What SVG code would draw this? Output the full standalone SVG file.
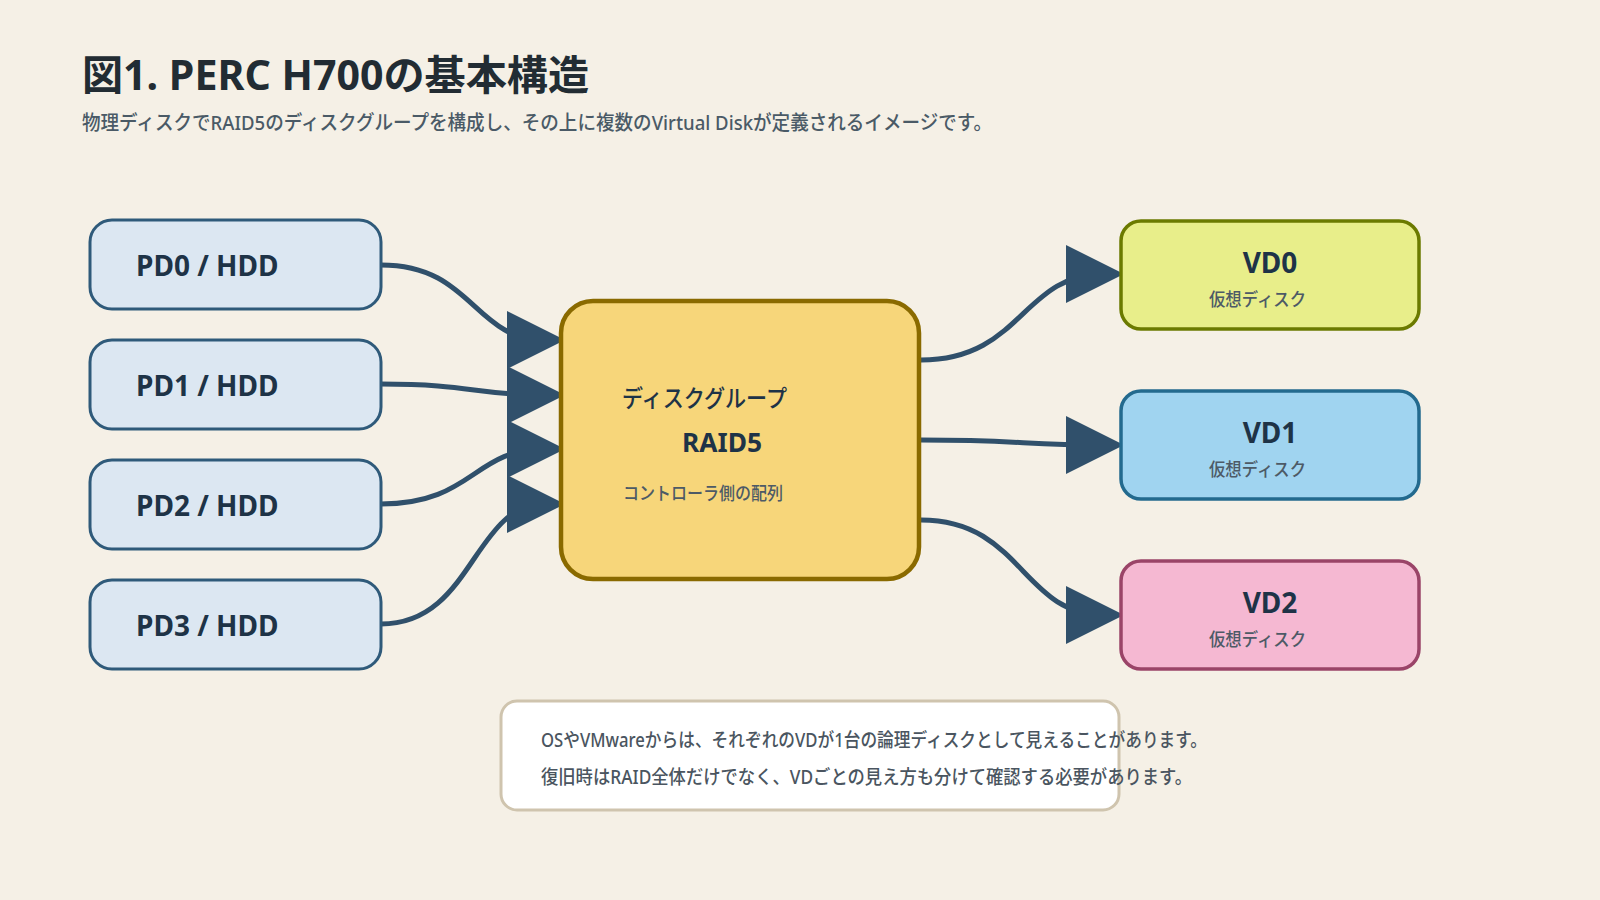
<svg xmlns="http://www.w3.org/2000/svg" width="1600" height="900" viewBox="0 0 1600 900">
<defs>
<style>
.t{font-family:"Noto Sans","Noto Sans CJK JP",sans-serif}
.pd{fill:#dce7f2;stroke:#2f5a7a;stroke-width:3}
.pdt{font-size:28px;font-weight:700;fill:#1e3347}
.vdt{font-size:28px;font-weight:700;fill:#1e3347;text-anchor:middle}
.vds{font-size:18px;font-weight:500;fill:#4d5a66}
.conn{fill:none;stroke:#30506b;stroke-width:5}
</style>
<marker id="ah" markerUnits="userSpaceOnUse" viewBox="0 0 58 58" markerWidth="58" markerHeight="58" refX="38" refY="29" orient="auto">
<path d="M0,0 L58,29 L0,58 Z" fill="#30506b"/>
</marker>
</defs>
<rect width="1600" height="900" fill="#f5f0e6"/>
<text class="t" x="82" y="90" font-size="41" font-weight="700" fill="#222c33" textLength="507" lengthAdjust="spacingAndGlyphs">図1. PERC H700の基本構造</text>
<text class="t" x="82" y="130" font-size="20" font-weight="500" fill="#4a5a66" textLength="910" lengthAdjust="spacingAndGlyphs">物理ディスクでRAID5のディスクグループを構成し、その上に複数のVirtual Diskが定義されるイメージです。</text>
<g id="connectors">
<path class="conn" marker-end="url(#ah)" d="M381,265 C473,265 473,340 545,340"/>
<path class="conn" marker-end="url(#ah)" d="M381,384 C473,384 473,395 545,395"/>
<path class="conn" marker-end="url(#ah)" d="M381,504 C473,504 473,449 545,449"/>
<path class="conn" marker-end="url(#ah)" d="M381,624 C473,624 473,504 545,504"/>
<path class="conn" marker-end="url(#ah)" d="M921,360 C1022,360 1022,274 1104,274"/>
<path class="conn" marker-end="url(#ah)" d="M921,440 C1022,440 1022,445 1104,445"/>
<path class="conn" marker-end="url(#ah)" d="M921,520 C1022,520 1022,615 1104,615"/>
</g>
<g id="pd0"><rect class="pd" x="90" y="220" width="291" height="89" rx="22"/><text class="t pdt" x="136" y="276">PD0 / HDD</text></g>
<g id="pd1"><rect class="pd" x="90" y="340" width="291" height="89" rx="22"/><text class="t pdt" x="136" y="396">PD1 / HDD</text></g>
<g id="pd2"><rect class="pd" x="90" y="460" width="291" height="89" rx="22"/><text class="t pdt" x="136" y="516">PD2 / HDD</text></g>
<g id="pd3"><rect class="pd" x="90" y="580" width="291" height="89" rx="22"/><text class="t pdt" x="136" y="636">PD3 / HDD</text></g>
<g id="raid">
<rect x="561" y="301" width="358" height="278" rx="32" fill="#f7d67a" stroke="#8a6a00" stroke-width="4.5"/>
<text class="t" x="622" y="407" font-size="24" font-weight="500" fill="#1e3347" textLength="165" lengthAdjust="spacingAndGlyphs">ディスクグループ</text>
<text class="t" x="682" y="452" font-size="27" font-weight="700" fill="#1e3347" textLength="80" lengthAdjust="spacingAndGlyphs">RAID5</text>
<text class="t" x="623" y="500" font-size="18" font-weight="500" fill="#4d5a66" textLength="160" lengthAdjust="spacingAndGlyphs">コントローラ側の配列</text>
</g>
<g id="vd0"><rect x="1121" y="221" width="298" height="108" rx="20" fill="#e8ee8a" stroke="#6b7a00" stroke-width="3.5"/><text class="t vdt" x="1270" y="273">VD0</text><text class="t vds" x="1209" y="306" textLength="97" lengthAdjust="spacingAndGlyphs">仮想ディスク</text></g>
<g id="vd1"><rect x="1121" y="391" width="298" height="108" rx="20" fill="#a0d4f0" stroke="#236a8e" stroke-width="3.5"/><text class="t vdt" x="1270" y="443">VD1</text><text class="t vds" x="1209" y="476" textLength="97" lengthAdjust="spacingAndGlyphs">仮想ディスク</text></g>
<g id="vd2"><rect x="1121" y="561" width="298" height="108" rx="20" fill="#f5b8d2" stroke="#9a4468" stroke-width="3.5"/><text class="t vdt" x="1270" y="613">VD2</text><text class="t vds" x="1209" y="646" textLength="97" lengthAdjust="spacingAndGlyphs">仮想ディスク</text></g>
<g id="note">
<rect x="501" y="701" width="618" height="109" rx="16" fill="#ffffff" stroke="#cfc4ae" stroke-width="3"/>
<text class="t" x="541" y="747" font-size="19" font-weight="500" fill="#4a5560" textLength="666" lengthAdjust="spacingAndGlyphs">OSやVMwareからは、それぞれのVDが1台の論理ディスクとして見えることがあります。</text>
<text class="t" x="541" y="784" font-size="19" font-weight="500" fill="#4a5560" textLength="651" lengthAdjust="spacingAndGlyphs">復旧時はRAID全体だけでなく、VDごとの見え方も分けて確認する必要があります。</text>
</g>
</svg>
